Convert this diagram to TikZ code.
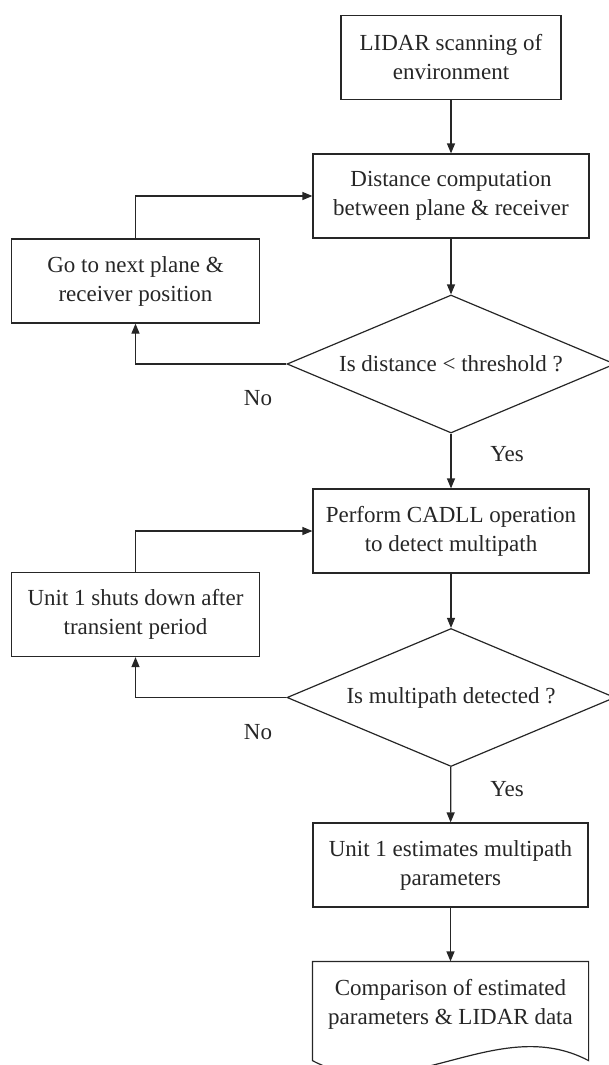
\documentclass[tikz,border=0pt]{standalone}
\usepackage{fontspec}
\setmainfont{Liberation Serif}
\usetikzlibrary{shapes.geometric,arrows.meta}
\begin{document}
\begin{tikzpicture}[x=1pt,y=-1pt, line width=1.2pt, draw=black!85,
  txt/.style={font=\fontsize{23}{29}\selectfont, text=black!85},
  box/.style={txt, draw, minimum width=#1, minimum height=84pt, align=center, inner sep=0pt},
  decision/.style={txt, draw, diamond, minimum width=328pt, minimum height=138pt, aspect=2.38, inner sep=0pt},
  arr/.style={draw, -{Triangle[length=10pt,width=8pt]}},
  lbl/.style={txt, inner sep=0pt}
]
\useasboundingbox (0,0) rectangle (608,1065);

\node[box=220pt] (lidar) at (451,57.5) {LIDAR scanning of\\environment};
\node[box=276pt] (dist) at (451,196) {Distance computation\\between plane \& receiver};
\node[box=248pt] (go) at (135.5,281) {Go to next plane \&\\receiver position};
\node[decision] (d1) at (451,364) {Is distance < threshold ?};
\node[box=276pt] (perf) at (451,531) {Perform CADLL operation\\to detect multipath};
\node[box=248pt] (shut) at (135.5,614.5) {Unit 1 shuts down after\\transient period};
\node[decision] (d2) at (451,697.5) {Is multipath detected ?};
\node[box=275pt] (est) at (450.5,865) {Unit 1 estimates multipath\\parameters};
\node[txt, align=center, minimum width=275pt, minimum height=84pt, inner sep=0pt] (doc) at (450.5,1004) {Comparison of estimated\\parameters \& LIDAR data};
\draw (doc.north west) -- (doc.north east) -- ([yshift=-14pt]doc.south east)
  .. controls +(-91.7,-48.5) and +(91.6,48.5) .. ([yshift=-14pt]doc.south west) -- cycle;

\node[lbl] (no1) at (258,398) {No};
\node[lbl] (yes1) at (507,454) {Yes};
\node[lbl] (no2) at (258,732) {No};
\node[lbl] (yes2) at (507,789) {Yes};

\draw[arr] (lidar) -- (dist);
\draw[arr] (dist) -- (d1);
\draw[arr] (d1) -- (perf);
\draw[arr] (d1.west) -| (go.south);
\draw[arr] (go.north) |- (dist.west);
\draw[arr] (perf) -- (d2);
\draw[arr] (d2.west) -| (shut.south);
\draw[arr] (shut.north) |- (perf.west);
\draw[arr] (d2) -- (est);
\draw[arr] (est) -- (doc.north);
\end{tikzpicture}
\end{document}
